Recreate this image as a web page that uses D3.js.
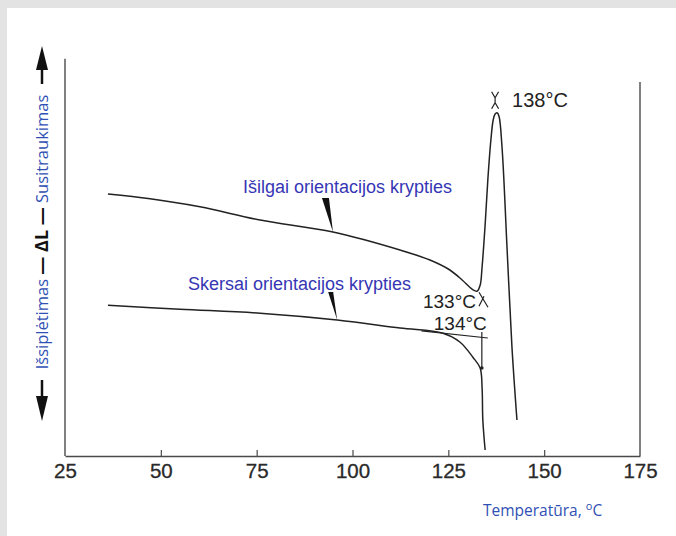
<!DOCTYPE html>
<html>
<head>
<meta charset="utf-8">
<script src="https://cdn.jsdelivr.net/npm/d3@7"></script>
<style>
  body { margin: 0; background: #e3e3e3; }
  svg { display: block; }
</style>
</head>
<body>
<div id="chart"></div>
<script>
// Temperature axis (°C)
var tempTicks = [25, 50, 75, 100, 125, 150, 175]

// Išilgai orientacijos krypties (longitudinal), ΔL in arbitrary units
var longTemp = [36.2, 47.2, 60.2, 75.9, 94.9, 112.4, 120.2, 125.4, 128.6, 131.2, 132.5,
                133.3, 133.8, 134.6, 135.3, 136.1, 136.7, 137.2, 137.7, 138.2, 139.0, 140.3, 141.6, 142.9]
var longDL   = [1.55, 1.43, 1.23, 0.90, 0.60, 0.15, -0.10, -0.35, -0.60, -0.83, -0.88,
                -0.73, -0.28, 0.78, 1.90, 2.90, 3.40, 3.55, 3.58, 3.50, 2.73, 0.23, -2.28, -4.10]

// Skersai orientacijos krypties (transverse)
var transTemp = [36.2, 55.0, 75.9, 96.0, 112.4, 123.6, 128.0, 131.4, 133.3, 133.8, 134.0, 134.6]
var transDL   = [-1.23, -1.33, -1.43, -1.60, -1.80, -1.93, -2.15, -2.53, -2.80, -3.28, -4.10, -4.85]

// tangent (extrapolated straight part) of the transverse curve
var tangentTemp = [118.0, 135.3]
var tangentDL = [-1.87, -2.05]

var peakTemps = { shrinkStart: 133, transKnee: 134, peak: 138 }

var width = 676, height = 536
var margin = { left: 65, right: 36, top: 56, bottom: 80 }

var svg = d3.select("#chart").append("svg")
  .attr("width", width)
  .attr("height", height)

// white panel on grey frame
svg.append("rect")
  .attr("x", 7).attr("y", 8)
  .attr("width", width - 7).attr("height", height - 8)
  .attr("fill", "#ffffff")

var x = d3.scaleLinear()
  .domain([25, 175])
  .range([margin.left, width - margin.right])

var y = d3.scaleLinear()
  .domain([-5, 5])
  .range([height - margin.bottom, margin.top])

var axisColor = "#4a4a4a"
var inkColor = "#222"
var blue = "#3636b4"

// x axis, ticks pointing inward
var xAxis = svg.append("g")
  .attr("transform", "translate(0," + y(-5) + ")")
  .call(d3.axisBottom(x)
    .tickValues(tempTicks)
    .tickSize(-6)
    .tickSizeOuter(0)
    .tickPadding(7)
    .tickFormat(d3.format("d")))
xAxis.select(".domain").attr("stroke", axisColor).attr("stroke-width", 1.6)
xAxis.selectAll(".tick line").attr("stroke", axisColor).attr("stroke-width", 1.2)
xAxis.selectAll(".tick").filter(function(d) { return d === 25 || d === 175 }).select("line").remove()
xAxis.selectAll(".tick text")
  .attr("fill", "#2a2a2a")
  .attr("stroke", "#2a2a2a").attr("stroke-width", 0.3)
  .style("font-family", "Liberation Sans, Arial, sans-serif")
  .style("font-size", "20.5px")

// left and right frame lines
svg.append("line")
  .attr("x1", x(25)).attr("x2", x(25))
  .attr("y1", y(-5)).attr("y2", y(4.93))
  .attr("stroke", axisColor).attr("stroke-width", 1.4)
svg.append("line")
  .attr("x1", x(175)).attr("x2", x(175))
  .attr("y1", y(-5)).attr("y2", y(4.35))
  .attr("stroke", axisColor).attr("stroke-width", 1.4)

var line = d3.line()
  .x(function(d) { return x(d[0]) })
  .y(function(d) { return y(d[1]) })
  .curve(d3.curveCatmullRom.alpha(0.5))

var longData = longTemp.map(function(t, i) { return [t, longDL[i]] })
var transData = transTemp.map(function(t, i) { return [t, transDL[i]] })
var tangentData = tangentTemp.map(function(t, i) { return [t, tangentDL[i]] })

svg.append("path")
  .attr("d", line(longData))
  .attr("fill", "none").attr("stroke", inkColor).attr("stroke-width", 1.5)

svg.append("path")
  .attr("d", line(transData))
  .attr("fill", "none").attr("stroke", inkColor).attr("stroke-width", 1.5)

svg.append("path")
  .attr("d", d3.line().x(function(d) { return x(d[0]) }).y(function(d) { return y(d[1]) })(tangentData))
  .attr("fill", "none").attr("stroke", inkColor).attr("stroke-width", 1.2)

// vertical mark at the transverse knee (134 °C)
svg.append("line")
  .attr("x1", x(peakTemps.transKnee) - 1).attr("x2", x(peakTemps.transKnee) - 1)
  .attr("y1", y(-1.9)).attr("y2", y(-2.8))
  .attr("stroke", inkColor).attr("stroke-width", 1.2)
svg.append("circle")
  .attr("cx", x(peakTemps.transKnee) - 1).attr("cy", y(-2.8)).attr("r", 1.8)
  .attr("fill", inkColor)

// small crossed marker at 133 °C minimum
var m133 = [x(peakTemps.shrinkStart) + 1, y(-0.88)]
svg.append("path")
  .attr("d", "M" + (m133[0] - 1) + "," + (m133[1] + 1) + " L" + (m133[0] + 8) + "," + (m133[1] + 16) +
             " M" + (m133[0] + 4) + "," + (m133[1] + 5) + " L" + (m133[0] - 1) + "," + (m133[1] + 15))
  .attr("fill", "none").attr("stroke", inkColor).attr("stroke-width", 1.2)

// hourglass marker above the 138 °C peak
var mPeak = [x(137.2), y(3.58)]
svg.append("path")
  .attr("d", "M" + (mPeak[0] - 3.5) + "," + (mPeak[1] - 21) + " L" + mPeak[0] + "," + (mPeak[1] - 15) +
             " L" + (mPeak[0] + 3.5) + "," + (mPeak[1] - 21) +
             " M" + mPeak[0] + "," + (mPeak[1] - 15) + " L" + mPeak[0] + "," + (mPeak[1] - 10) +
             " M" + (mPeak[0] - 3.5) + "," + (mPeak[1] - 4) + " L" + mPeak[0] + "," + (mPeak[1] - 10) +
             " L" + (mPeak[0] + 3.5) + "," + (mPeak[1] - 4))
  .attr("fill", "none").attr("stroke", inkColor).attr("stroke-width", 1.2)

var tempFont = "Liberation Sans, Arial, sans-serif"
svg.append("text")
  .attr("x", mPeak[0] + 17).attr("y", mPeak[1] - 6)
  .attr("fill", inkColor).style("font-family", tempFont).style("font-size", "20px")
  .text(peakTemps.peak + "°C")
svg.append("text")
  .attr("x", x(peakTemps.shrinkStart) - 3).attr("y", y(-1.3))
  .attr("text-anchor", "end")
  .attr("fill", inkColor).style("font-family", tempFont).style("font-size", "19px")
  .text(peakTemps.shrinkStart + "°C")
svg.append("text")
  .attr("x", x(peakTemps.transKnee) + 4).attr("y", y(-1.85))
  .attr("text-anchor", "end")
  .attr("fill", inkColor).style("font-family", tempFont).style("font-size", "19px")
  .text(peakTemps.transKnee + "°C")

// pointer wedges from labels to curves
function wedge(t, v, dxA, dxB, dy) {
  var px = x(t), py = y(v)
  return "M" + px + "," + py + " L" + (px + dxA) + "," + (py - dy) + " L" + (px + dxB) + "," + (py - dy) + "Z"
}
svg.append("path").attr("d", wedge(94.9, 0.60, -11, -4, 34)).attr("fill", "#111")
svg.append("path").attr("d", wedge(96.0, -1.60, -9, -4, 28)).attr("fill", "#111")

svg.append("text")
  .attr("x", 243).attr("y", 193)
  .attr("fill", blue).style("font-family", tempFont).style("font-size", "18px")
  .text("Išilgai orientacijos krypties")
svg.append("text")
  .attr("x", 188).attr("y", 290)
  .attr("fill", blue).style("font-family", tempFont).style("font-size", "18px")
  .text("Skersai orientacijos krypties")

// x axis title
var xTitle = svg.append("text")
  .attr("x", 483).attr("y", 516)
  .attr("fill", "#2f50b4").style("font-family", "Open Sans, sans-serif").style("font-size", "15.5px")
xTitle.append("tspan").text("Temperatūra, ")
xTitle.append("tspan").attr("dy", -6).style("font-size", "11px").text("o")
xTitle.append("tspan").attr("dy", 6).text("C")

// y axis title with arrows
var yTitle = svg.append("text")
  .attr("transform", "translate(48,232) rotate(-90)")
  .attr("text-anchor", "middle")
  .style("font-family", "Open Sans, sans-serif").style("font-size", "16.5px")
yTitle.append("tspan").attr("fill", "#2f50b4").text("Išsiplėtimas ")
yTitle.append("tspan").attr("fill", "#111").style("font-weight", "bold").style("font-size", "18px").text("— ΔL —")
yTitle.append("tspan").attr("fill", "#2f50b4").text(" Susitraukimas")

var ax = 42
svg.append("line").attr("x1", ax).attr("x2", ax).attr("y1", 84).attr("y2", 66)
  .attr("stroke", "#111").attr("stroke-width", 2.5)
svg.append("path").attr("d", "M" + ax + ",46 L" + (ax - 6) + ",70 L" + (ax + 6) + ",70 Z").attr("fill", "#111")
svg.append("line").attr("x1", ax).attr("x2", ax).attr("y1", 380).attr("y2", 398)
  .attr("stroke", "#111").attr("stroke-width", 2.5)
svg.append("path").attr("d", "M" + ax + ",421 L" + (ax - 6) + ",396 L" + (ax + 6) + ",396 Z").attr("fill", "#111")
</script>
</body>
</html>
